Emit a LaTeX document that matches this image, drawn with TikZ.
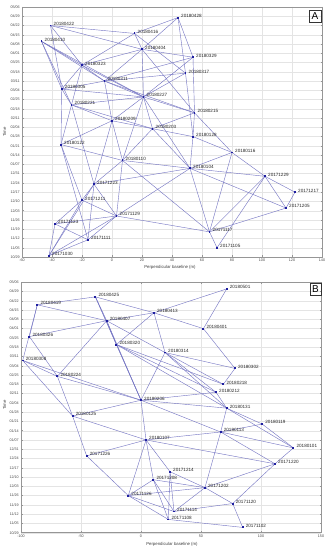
\documentclass[tikz,border=0pt]{standalone}
\usepackage{fontspec}
\setmainfont{Liberation Sans}
\usetikzlibrary{positioning}

\definecolor{edgeblue}{RGB}{118,118,196}
\definecolor{dotblue}{RGB}{30,30,160}
\definecolor{gridgray}{RGB}{228,228,228}
\definecolor{axisgray}{RGB}{150,150,150}

\tikzset{
  edge/.style={draw=edgeblue, line width=0.42pt},
  pt/.style={rectangle, fill=dotblue, inner sep=0pt, minimum size=1.9pt},
  lbl/.style={font=\fontsize{4.6}{5}\selectfont, text=black!85, inner sep=0pt, anchor=west},
  tick/.style={font=\fontsize{3.7}{4}\selectfont, text=black!70, inner sep=0pt},
  gridline/.style={draw=gridgray, line width=0.35pt},
  frame/.style={draw=axisgray, line width=0.45pt},
  axlabel/.style={font=\fontsize{4.3}{5}\selectfont, text=black!75, inner sep=0pt},
  panel/.style={draw=black!80, line width=0.4pt, font=\fontsize{10}{10}\selectfont,
    minimum size=11.5pt, inner sep=0pt},
}
\def\weeks{10/29,11/05,11/12,11/19,11/26,12/03,12/10,12/17,12/24,12/31,01/07,01/14,
  01/21,01/28,02/04,02/11,02/18,02/25,03/04,03/11,03/18,03/25,04/01,04/08,04/15,04/22,
  04/29,05/06}

\begin{document}
\begin{tikzpicture}[x=1pt, y=1pt]
  \useasboundingbox (0,0) rectangle (331,550);
  \fill[white] (0,0) rectangle (331,550);

  % ---------------- panel A ----------------
  \begin{scope}[shift={(112pt,293pt)}, x=1.5pt, y=1.3228pt]
    % grid and box
    \foreach \i in {0,...,27} \draw[gridline] (-60,{7*\i}) -- (140,{7*\i});
    \foreach \u in {-60,-40,...,140} \draw[gridline] (\u,0) -- (\u,189);
    \draw[frame] (-60,0) rectangle (140,189);
    \foreach \m/\dd [count=\i from 0] in \weeks {
      \draw[frame] (-60,{7*\i}) -- ++(1.5pt,0);
      \draw[frame] (140,{7*\i}) -- ++(-1.5pt,0);
      \node[tick, anchor=east] (ya\i) at ([xshift=-2pt]-60,{7*\i}) {\m/\dd};
    }
    \foreach \u in {-60,-40,...,140} {
      \draw[frame] (\u,0) -- ++(0,1.5pt);
      \draw[frame] (\u,189) -- ++(0,-1.5pt);
      \node[tick, anchor=north] (xa\u) at ([yshift=-2.2pt]\u,0) {\u};
    }
    % acquisitions
    \foreach \y/\md/\u/\d in {2018/0428/44/181, 2018/0422/-41/175, 2018/0416/15/169,
        2018/0410/-47/163, 2018/0404/20/157, 2018/0329/54/151, 2018/0323/-20/145,
        2018/0317/49/139, 2018/0311/-5/133, 2018/0305/-33.5/127, 2018/0227/21/121,
        2018/0221/-27/115, 2018/0215/55/109, 2018/0209/0/103, 2018/0203/27/97,
        2018/0128/54/91, 2018/0122/-34/85, 2018/0116/80/79, 2018/0110/7/73,
        2018/0104/52/67, 2017/1229/102/61, 2017/1223/-12/55, 2017/1217/122/49,
        2017/1211/-20/43, 2017/1205/116/37, 2017/1129/3/31, 2017/1123/-38/25,
        2017/1117/65/19, 2017/1111/-16/13, 2017/1105/70/7, 2017/1030/-42/1}
      \coordinate (a\md) at (\u,\d);
    % interferometric pairs
    \foreach \p/\q in {0428/0416, 0428/0404, 0428/0329, 0428/0317,
        0422/0416, 0422/0404, 0422/0323, 0422/0305,
        0410/0323, 0410/0311, 0410/0227, 0410/0305, 0410/0221,
        0416/0404, 0416/0323, 0416/0317,
        0404/0323, 0404/0311, 0404/0227, 0404/0329, 0404/0215,
        0329/0227, 0329/0215, 0329/0311,
        0317/0227, 0317/0311, 0317/0128,
        0323/0311, 0323/0227, 0323/0305, 0323/0221,
        0311/0227, 0311/0215, 0311/0305, 0311/0209,
        0305/0227, 0305/0221, 0305/0122,
        0227/0221, 0227/0215, 0227/0209, 0227/0203, 0227/0110, 0227/0104,
        0221/0209, 0221/0203, 0221/0122, 0221/1223,
        0215/0203, 0215/0128, 0215/0116,
        0209/0203, 0209/0122, 0209/0110, 0209/1223,
        0203/0128, 0203/0110, 0203/0104,
        0128/0116, 0128/0104,
        0122/0110, 0122/1211, 0122/1111,
        0116/0104, 0116/1229, 0116/1117,
        0110/0104, 0110/1223, 0110/1129, 0110/1117,
        0104/1229, 0104/1223, 0104/1205, 0104/1129, 0104/1117,
        1229/1217, 1229/1205, 1229/1117, 1229/1105,
        1217/1205, 1205/1117,
        1223/1211, 1223/1129, 1223/1111, 1223/1030,
        1211/1129, 1211/1123, 1211/1030,
        1129/1123, 1129/1111, 1129/1030, 1129/1117,
        1123/1111, 1123/1030,
        1117/1105, 1111/1030}
      \draw[edge] (a\p) -- (a\q);
    \foreach \y/\md in {2018/0428, 2018/0422, 2018/0416, 2018/0410, 2018/0404,
        2018/0329, 2018/0323, 2018/0317, 2018/0311, 2018/0305, 2018/0227, 2018/0221,
        2018/0215, 2018/0209, 2018/0203, 2018/0128, 2018/0122, 2018/0116, 2018/0110,
        2018/0104, 2017/1229, 2017/1223, 2017/1217, 2017/1211, 2017/1205, 2017/1129,
        2017/1123, 2017/1117, 2017/1111, 2017/1105, 2017/1030} {
      \node[pt] (ma\md) at (a\md) {};
      \node[lbl] (la\md) at ([xshift=3pt, yshift=1.7pt]a\md) {\y\md};
    }
  \end{scope}
  \node[axlabel] (xlabA) at (170,283) {Perpendicular baseline (m)};
  \node[axlabel, rotate=90] (ylabA) at (4.5,418) {Time};
  \node[panel] (tagA) at (315,534) {A};

  % ---------------- panel B ----------------
  \begin{scope}[shift={(141pt,17.3pt)}, x=1.2pt, y=1.3249pt]
    % grid and box
    \foreach \i in {0,...,27} \draw[gridline] (-100,{7*\i}) -- (150,{7*\i});
    \foreach \u in {-100,-50,...,150} \draw[gridline] (\u,0) -- (\u,189);
    \draw[frame] (-100,0) rectangle (150,189);
    \foreach \m/\dd [count=\i from 0] in \weeks {
      \draw[frame] (-100,{7*\i}) -- ++(1.5pt,0);
      \draw[frame] (150,{7*\i}) -- ++(-1.5pt,0);
      \node[tick, anchor=east] (yb\i) at ([xshift=-2pt]-100,{7*\i}) {\m/\dd};
    }
    \foreach \u in {-100,-50,...,150} {
      \draw[frame] (\u,0) -- ++(0,1.5pt);
      \draw[frame] (\u,189) -- ++(0,-1.5pt);
      \node[tick, anchor=north] (xb\u) at ([yshift=-2.2pt]\u,0) {\u};
    }
    % acquisitions
    \foreach \y/\md/\u/\d in {2018/0501/71.4/184, 2018/0425/-38/178, 2018/0419/-86.4/172,
        2018/0413/10.8/166, 2018/0407/-28.6/160, 2018/0401/52/154, 2018/0326/-93/148,
        2018/0320/-20.5/142, 2018/0314/20/136, 2018/0308/-98.6/130, 2018/0302/78.3/124,
        2018/0224/-69.7/118, 2018/0218/68.6/112, 2018/0212/62.5/106, 2018/0206/0/100,
        2018/0131/71.4/94, 2018/0125/-57/88, 2018/0119/101/82, 2018/0113/66.4/76,
        2018/0107/4.2/70, 2018/0101/127/64, 2017/1226/-45.3/58, 2017/1220/111.7/52,
        2017/1214/24.2/46, 2017/1208/10.3/40, 2017/1202/53.3/34, 2017/1126/-10.6/28,
        2017/1120/76.4/22, 2017/1114/27.5/16, 2017/1108/22.8/10, 2017/1102/84.7/4}
      \coordinate (b\md) at (\u,\d);
    % interferometric pairs
    \foreach \p/\q in {0501/0413, 0501/0401,
        0425/0419, 0425/0413, 0425/0407, 0425/0320, 0425/0206,
        0419/0407, 0419/0326, 0419/0308,
        0413/0407, 0413/0320, 0413/0401, 0413/0314,
        0407/0326, 0407/0224, 0407/0320, 0407/0314, 0407/0206,
        0320/0206, 0320/0218, 0320/0212, 0320/0131,
        0401/0302, 0326/0224,
        0308/0224, 0308/0206, 0308/0125,
        0224/0206, 0224/0125,
        0314/0302, 0314/0218, 0314/0212, 0314/0131, 0314/0206,
        0302/0218, 0212/0206, 0212/0131,
        0206/0125, 0206/0107, 0206/0113, 0206/0131,
        0131/0119, 0131/0113, 0131/0101,
        0119/0101, 0119/0113,
        0113/0101, 0113/1220, 0113/1202, 0113/0107,
        0101/1220,
        0107/0125, 0107/1226, 0107/1126, 0107/1208, 0107/1214, 0107/1220,
        0125/1226, 1226/1126,
        1220/1202, 1220/1120,
        1214/1202, 1214/1114, 1214/1108,
        1208/1126, 1208/1202, 1208/1114, 1208/1108,
        1126/1202, 1126/1114, 1126/1108,
        1202/1114, 1202/1120,
        1120/1114, 1120/1102, 1108/1102}
      \draw[edge] (b\p) -- (b\q);
    \foreach \y/\md in {2018/0501, 2018/0425, 2018/0419, 2018/0413, 2018/0407,
        2018/0401, 2018/0326, 2018/0320, 2018/0314, 2018/0308, 2018/0302, 2018/0224,
        2018/0218, 2018/0212, 2018/0206, 2018/0131, 2018/0125, 2018/0119, 2018/0113,
        2018/0107, 2018/0101, 2017/1226, 2017/1220, 2017/1214, 2017/1208, 2017/1202,
        2017/1126, 2017/1120, 2017/1114, 2017/1108, 2017/1102} {
      \node[pt] (mb\md) at (b\md) {};
      \node[lbl] (lb\md) at ([xshift=3pt, yshift=1.7pt]b\md) {\y\md};
    }
  \end{scope}
  \node[axlabel] (xlabB) at (172,6) {Perpendicular baseline (m)};
  \node[axlabel, rotate=90] (ylabB) at (4.5,145) {Time};
  \node[panel] (tagB) at (315.5,261) {B};
\end{tikzpicture}
\end{document}
